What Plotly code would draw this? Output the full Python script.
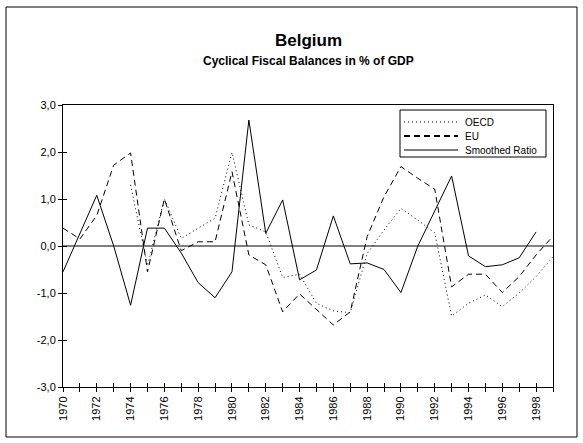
import plotly.graph_objects as go

years = list(range(1970, 2000))

oecd_years = list(range(1974, 2000))
oecd = [1.3, -0.42, 1.0, 0.16, 0.38, 0.59, 1.99, 0.45, 0.3, -0.67, -0.6, -1.22, -1.38, -1.42,
        -0.16, 0.34, 0.8, 0.55, 0.28, -1.49, -1.22, -1.04, -1.29, -1.0, -0.65, -0.23]

eu = [0.38, 0.15, 0.65, 1.72, 1.98, -0.55, 1.0, -0.1, 0.09, 0.09, 1.58, -0.19, -0.4, -1.4, -1.02,
      -1.36, -1.68, -1.4, 0.2, 1.05, 1.69, 1.44, 1.21, -0.87, -0.6, -0.6, -0.99, -0.65, -0.19, 0.21]

smooth_years = list(range(1970, 1999))
smoothed = [-0.55, 0.27, 1.08, 0.0, -1.26, 0.38, 0.38, -0.15, -0.78, -1.1, -0.55, 2.68, 0.27, 0.98,
            -0.72, -0.51, 0.64, -0.38, -0.36, -0.5, -0.99, 0.0, 0.75, 1.49, -0.21, -0.44, -0.4, -0.25, 0.3]

y_ticks = [-3, -2, -1, 0, 1, 2, 3]
y_labels = ["-3,0", "-2,0", "-1,0", "0,0", "1,0", "2,0", "3,0"]
x_labels = [str(y) if y % 2 == 0 else "" for y in years]

font = "Liberation Sans, Arial, sans-serif"

# plot area in pixels: x 63..553, y 105..387
L, R, T, B = 63, 553, 105, 387
W, H = 583, 443


def px(x):
    return (x - L) / (R - L)


def py(y):
    return (B - y) / (B - T)


styles = {
    "OECD": dict(color="black", width=1, dash="1px,3px"),
    "EU": dict(color="black", width=1, dash="6px,4px"),
    "Smoothed Ratio": dict(color="black", width=1),
}

fig = go.Figure()
fig.add_scatter(x=oecd_years, y=oecd, name="OECD", mode="lines", line=styles["OECD"])
fig.add_scatter(x=years, y=eu, name="EU", mode="lines", line=styles["EU"])
fig.add_scatter(x=smooth_years, y=smoothed, name="Smoothed Ratio", mode="lines",
                line=styles["Smoothed Ratio"])
# second pair of axes only for the inner half of the cross ticks
fig.add_scatter(x=[1970], y=[0], xaxis="x2", yaxis="y2", showlegend=False,
                mode="markers", marker=dict(opacity=0), hoverinfo="skip")

fig.update_layout(
    width=W, height=H,
    margin=dict(l=L, r=W - R, t=T, b=H - B),
    paper_bgcolor="white", plot_bgcolor="white",
    showlegend=False,
    font=dict(family=font, size=11, color="black"),
    xaxis=dict(range=[1970, 1999], tickvals=years, ticktext=x_labels, tickangle=-90,
               ticks="outside", ticklen=4, tickcolor="black", showgrid=False, zeroline=False,
               showline=True, linecolor="black", mirror=True, tickfont=dict(size=11)),
    yaxis=dict(range=[-3, 3], tickvals=y_ticks, ticktext=y_labels, ticks="outside", ticklen=4,
               tickcolor="black", showgrid=False, zeroline=True, zerolinecolor="#808080",
               zerolinewidth=1.5, showline=True, linecolor="black", mirror=True,
               tickfont=dict(size=11)),
    xaxis2=dict(range=[1970, 1999], overlaying="x", anchor="y", side="bottom", tickvals=years,
                ticks="inside", ticklen=4, tickcolor="black", showticklabels=False,
                showgrid=False, zeroline=False),
    yaxis2=dict(range=[-3, 3], overlaying="y", anchor="x", side="left", tickvals=y_ticks,
                ticks="inside", ticklen=4, tickcolor="black", showticklabels=False,
                showgrid=False, zeroline=False),
)

fig.add_annotation(text="<b>Belgium</b>", xref="paper", yref="paper", x=0.5, y=py(41),
                   showarrow=False, font=dict(size=17), xanchor="center", yanchor="middle")
fig.add_annotation(text="<b>Cyclical Fiscal Balances in % of GDP</b>", xref="paper", yref="paper",
                   x=0.5, y=py(61), showarrow=False, font=dict(size=12),
                   xanchor="center", yanchor="middle")

# legend box drawn by hand to get the tight row spacing of the original
fig.add_shape(type="rect", xref="paper", yref="paper", x0=px(400), x1=px(546), y0=py(157), y1=py(110),
              line=dict(color="black", width=1), fillcolor="white", layer="above")
for (name, style), row_y in zip(styles.items(), [122, 136, 150]):
    line = dict(style)
    if name == "EU":
        line["width"] = 2
    fig.add_shape(type="line", xref="paper", yref="paper", x0=px(404), x1=px(458),
                  y0=py(row_y), y1=py(row_y), line=line, layer="above")
    fig.add_annotation(text=name, xref="paper", yref="paper", x=px(463), y=py(row_y),
                       showarrow=False, font=dict(size=10), xanchor="left", yanchor="middle")

# outer frame around the whole chart
fig.add_shape(type="rect", xref="paper", yref="paper",
              x0=px(6), x1=px(577), y0=py(437), y1=py(7),
              line=dict(color="black", width=1))

fig.write_html("out.html", config={"displayModeBar": False},
               post_script="document.body.style.margin='0';")
